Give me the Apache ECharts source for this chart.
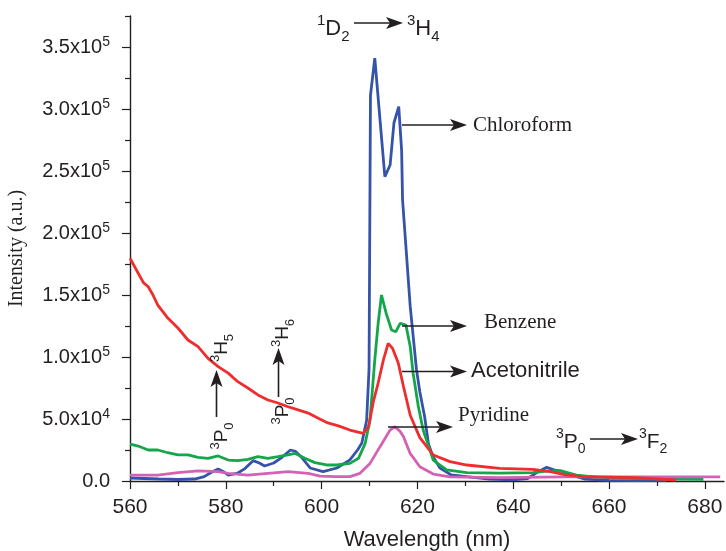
<!DOCTYPE html>
<html>
<head>
<meta charset="utf-8">
<title>Emission spectra</title>
<script src="https://cdn.jsdelivr.net/npm/echarts@6/dist/echarts.min.js"></script>
<style>
  html, body { margin: 0; padding: 0; background: #fff; }
  #chart { width: 726px; height: 551px; }
</style>
</head>
<body>
<div id="chart"></div>
<script>
// axis ticks
const xTicks = [560, 580, 600, 620, 640, 660, 680];
const xMinorTicks = [570, 590, 610, 630, 650, 670];
const yTicks = [0, 50000, 100000, 150000, 200000, 250000, 300000, 350000];
const yMinorTicks = [25000, 75000, 125000, 175000, 225000, 275000, 325000, 375000];

// Chloroform
const chloroformWl = [560, 563, 566, 570, 573.5, 575.5, 577, 578.4, 579.5, 580.5, 582.5, 584, 585.7, 587, 588.1, 590, 591.5, 593.5, 594.5, 595.7, 597.6, 600.3, 603.2, 605.9, 607.5, 608.4, 609.4, 609.9, 610.2, 611.1, 613.2, 614.3, 615.1, 616.1, 616.7, 616.9, 618.5, 619.8, 620.5, 621.5, 622.3, 623.2, 624.7, 627, 630.3, 635, 640, 643, 645, 647, 648.5, 650.4, 652, 655, 660, 665, 672];
const chloroformI = [2400, 2000, 1600, 1200, 1600, 3500, 7000, 9700, 7500, 4800, 6400, 10000, 16400, 14500, 12100, 14500, 18500, 25000, 24000, 19600, 10500, 7500, 10500, 17000, 25000, 30600, 49000, 90000, 311000, 341000, 245400, 254800, 288700, 301900, 266900, 226600, 140600, 90000, 72000, 52000, 30000, 20000, 10500, 5000, 3500, 1500, 1000, 2000, 7000, 11000, 9000, 7500, 5000, 1500, 500, 300, 500];

// Benzene
const benzeneWl = [560, 561.7, 563.8, 565.8, 567.9, 570, 572.1, 574.2, 576.3, 578.4, 580.5, 582.5, 584.6, 586.7, 588.8, 590.9, 593, 594.4, 596.5, 598.6, 601.3, 603.2, 605.9, 607.7, 609.1, 610.1, 611.1, 611.8, 612.5, 613.5, 614.6, 615.5, 616.4, 617.6, 618.5, 619.1, 620.2, 621.2, 621.9, 623.3, 626.1, 630.3, 637.2, 644.1, 647, 649.8, 653.2, 658, 665, 674, 679.7];
const benzeneI = [29800, 28200, 25000, 25000, 22800, 21000, 21000, 19100, 18300, 20200, 16900, 16400, 17500, 19600, 18300, 19600, 21000, 22300, 18300, 14800, 12900, 12900, 14200, 18300, 30400, 49200, 97600, 127200, 150000, 135000, 121800, 120400, 127200, 125800, 108300, 86900, 59900, 41100, 33000, 16900, 8900, 6700, 6400, 6700, 8000, 8300, 4800, 3000, 2200, 1600, 1300];

// Acetonitrile
const acetonitrileWl = [560, 561.7, 562.8, 563.8, 564.8, 565.8, 567.9, 570, 572.1, 574.2, 576.3, 578.4, 580.5, 582.5, 584.6, 586.7, 588.8, 590.9, 593, 595.1, 597.2, 599.2, 601.3, 603.5, 605.9, 608.7, 609.8, 610.8, 611.8, 612.9, 613.9, 614.8, 616, 617.1, 618.5, 620.5, 623.3, 626.8, 630.3, 637.2, 644.1, 647.7, 651, 654.6, 665, 674];
const acetonitrileI = [179600, 167700, 160000, 156700, 150000, 141900, 131400, 123400, 113700, 108300, 98900, 92200, 87000, 80100, 75000, 69400, 65300, 62900, 59900, 57300, 54800, 50800, 46800, 44500, 41100, 38400, 43800, 64000, 79000, 97600, 111000, 107000, 95200, 76000, 53000, 35000, 21000, 15600, 12900, 10200, 9400, 7500, 5000, 3500, 2700, 800];

// Pyridine
const pyridineWl = [560, 565.8, 570, 574.2, 578.4, 580.5, 584.6, 588.8, 593, 597.2, 599.7, 603, 605.9, 608, 610.1, 612.2, 614.3, 615.3, 616.4, 617.1, 618.5, 619.1, 620.5, 623.3, 626.8, 637.2, 651, 665, 683.2];
const pyridineI = [4800, 4800, 6700, 8100, 7500, 6200, 4800, 6200, 7500, 6200, 4000, 3500, 3500, 6200, 14200, 27700, 41100, 43800, 40000, 35700, 22000, 19000, 11500, 5600, 3300, 2700, 3300, 3300, 3300];

const ink = "#231f20";
const sans = "Liberation Sans, Arial, sans-serif";
const serif = "Liberation Serif, Times New Roman, serif";

const pairs = (xs, ys) => xs.map((x, i) => [x, ys[i]]);

const chart = echarts.init(document.getElementById("chart"), null, { renderer: "canvas" });

// 上下标文字样式
function richText(size) {
  const s = Math.round(size * 0.68);
  return {
    sup: { fontSize: s, lineHeight: s, verticalAlign: "top", fontFamily: sans, fill: ink },
    b: { fontSize: size, lineHeight: Math.round(size * 1.4), verticalAlign: "middle", fontFamily: sans, fill: ink },
    sub: { fontSize: s, lineHeight: s, verticalAlign: "bottom", fontFamily: sans, fill: ink },
  };
}

function label(text, x, y, size, rotate) {
  return {
    type: "text",
    x: x,
    y: y,
    rotation: rotate ? Math.PI / 2 : 0,
    z: 100,
    style: {
      text: text,
      rich: richText(size),
      align: rotate ? "center" : "left",
      verticalAlign: "middle",
      fill: ink,
    },
  };
}

function plainLabel(text, x, y, font) {
  return {
    type: "text",
    x: x,
    y: y,
    z: 100,
    style: { text: text, font: font, fill: ink, align: "left", verticalAlign: "middle" },
  };
}

function hArrow(x1, x2, y) {
  return [
    { type: "line", z: 100, shape: { x1: x1, y1: y, x2: x2 - 10, y2: y }, style: { stroke: ink, lineWidth: 1.6 } },
    { type: "polygon", z: 100, shape: { points: [[x2, y], [x2 - 17, y - 6], [x2 - 13, y], [x2 - 17, y + 6]] }, style: { fill: ink } },
  ];
}

function vArrow(x, yBottom, yTip) {
  return [
    { type: "line", z: 100, shape: { x1: x, y1: yBottom, x2: x, y2: yTip + 10 }, style: { stroke: ink, lineWidth: 1.6 } },
    { type: "polygon", z: 100, shape: { points: [[x, yTip], [x - 6, yTip + 17], [x, yTip + 13], [x + 6, yTip + 17]] }, style: { fill: ink } },
  ];
}

const lineSeries = (name, data, color) => ({
  name: name,
  type: "line",
  data: data,
  showSymbol: false,
  smooth: false,
  xAxisIndex: 0,
  yAxisIndex: 0,
  lineStyle: { color: color, width: 2.8 },
  itemStyle: { color: color },
  emphasis: { disabled: true },
});

const yLabel = (v) => {
  if (v === 0) return "{b|0.0}";
  if (v === 50000) return "{b|5.0x10}{sup|4}";
  return "{b|" + (v / 100000).toFixed(1) + "x10}{sup|5}";
};

const option = {
  animation: false,
  backgroundColor: "#fff",
  grid: { left: 130, right: 2, top: 16, bottom: 70, outerBoundsMode: "none", containLabel: false },
  xAxis: [
    {
      type: "value",
      min: 560,
      max: 684,
      position: "bottom",
      name: "Wavelength (nm)",
      nameLocation: "middle",
      nameGap: 48,
      nameTextStyle: { fontFamily: sans, fontSize: 22, color: ink },
      axisLine: { lineStyle: { color: ink, width: 1.4 } },
      axisTick: { customValues: xTicks, length: 8, lineStyle: { color: ink, width: 1.2 } },
      axisLabel: { customValues: xTicks, fontFamily: sans, fontSize: 21, color: ink, margin: 16 },
      splitLine: { show: false },
    },
    {
      type: "value",
      min: 560,
      max: 684,
      position: "bottom",
      axisLine: { show: false },
      axisTick: { customValues: xMinorTicks, length: 5, lineStyle: { color: ink, width: 1.2 } },
      axisLabel: { show: false },
      splitLine: { show: false },
    },
  ],
  yAxis: [
    {
      type: "value",
      min: 0,
      max: 375000,
      position: "left",
      name: "Intensity (a.u.)",
      nameLocation: "middle",
      nameGap: 103,
      nameTextStyle: { fontFamily: serif, fontSize: 20, color: ink },
      axisLine: { show: true, lineStyle: { color: ink, width: 1.4 } },
      axisTick: { customValues: yTicks, length: 8, lineStyle: { color: ink, width: 1.2 } },
      axisLabel: {
        customValues: yTicks,
        margin: 20,
        formatter: yLabel,
        rich: {
          b: { fontFamily: sans, fontSize: 20, lineHeight: 24, verticalAlign: "middle", color: ink },
          sup: { fontFamily: sans, fontSize: 14, lineHeight: 14, verticalAlign: "top", color: ink },
        },
      },
      splitLine: { show: false },
    },
    {
      type: "value",
      min: 0,
      max: 375000,
      position: "left",
      axisLine: { show: false },
      axisTick: { show: true, customValues: yMinorTicks, length: 5, lineStyle: { color: ink, width: 1.2 } },
      axisLabel: { show: false },
      splitLine: { show: false },
    },
  ],
  series: [
    lineSeries("Chloroform", pairs(chloroformWl, chloroformI), "#3553a8"),
    lineSeries("Benzene", pairs(benzeneWl, benzeneI), "#14a64a"),
    lineSeries("Pyridine", pairs(pyridineWl, pyridineI), "#d263b4"),
    lineSeries("Acetonitrile", pairs(acetonitrileWl, acetonitrileI), "#ee2d2e"),
  ],
  graphic: [
    // 1D2 -> 3H4
    label("{sup|1}{b|D}{sub|2}", 317, 29, 22),
    ...hArrow(354, 403, 23),
    label("{sup|3}{b|H}{sub|4}", 407, 29, 22),
    // 3P0 -> 3F2
    label("{sup|3}{b|P}{sub|0}", 556, 442, 21),
    ...hArrow(590, 638, 439),
    label("{sup|3}{b|F}{sub|2}", 639, 442, 21),
    // 3P0 -> 3H5
    label("{sup|3}{b|P}{sub|0}", 222, 436, 19, true),
    ...vArrow(216.5, 417, 370),
    label("{sup|3}{b|H}{sub|5}", 222, 348, 19, true),
    // 3P0 -> 3H6
    label("{sup|3}{b|P}{sub|0}", 283, 411, 19, true),
    ...vArrow(278.5, 397, 348),
    label("{sup|3}{b|H}{sub|6}", 283, 333, 19, true),
    // solvent labels
    ...hArrow(402, 467, 125),
    plainLabel("Chloroform", 473, 125, "21px " + serif),
    ...hArrow(402, 467, 326),
    plainLabel("Benzene", 484, 322, "21px " + serif),
    ...hArrow(402, 467, 371.5),
    plainLabel("Acetonitrile", 471, 371, "22px " + sans),
    ...hArrow(388, 453, 427),
    plainLabel("Pyridine", 458, 415, "21px " + serif),
  ],
};

chart.setOption(option);
window.addEventListener("resize", () => chart.resize());
</script>
</body>
</html>
